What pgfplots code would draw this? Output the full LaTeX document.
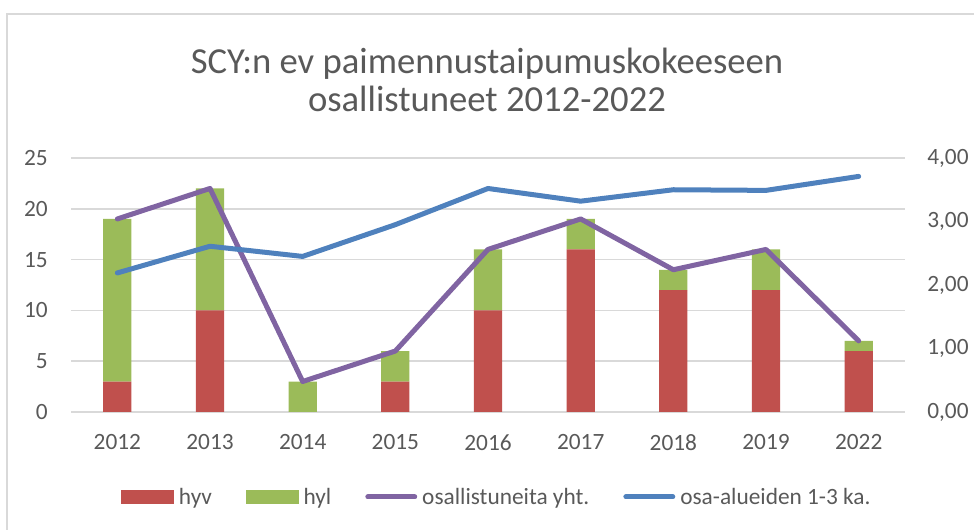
\documentclass[border=0pt]{standalone}
\usepackage{pgfplots}
\pgfplotsset{compat=1.18}
\usepackage{fontspec}
\setmainfont{Carlito}
\definecolor{cred}{HTML}{C0504D}
\definecolor{cgreen}{HTML}{9BBB59}
\definecolor{cpurple}{HTML}{8064A2}
\definecolor{cblue}{HTML}{4F81BD}
\definecolor{gridc}{HTML}{D9D9D9}
\definecolor{textc}{HTML}{595959}
\pgfplotsset{
  base/.style={
    at={(53.25pt,88.5pt)}, anchor=south west,
    scale only axis, width=625.5pt, height=190.5pt,
    xmin=-0.5, xmax=8.5,
    axis line style={draw=none}, major tick length=0pt,
    tick label style={font=\fontsize{17.5}{20}\selectfont, text=textc, inner sep=0pt},
    /pgf/number format/assume math mode=true,
  }
}
\begin{document}
\begin{tikzpicture}
\path[use as bounding box] (0pt,0pt) rectangle (730.5pt,397.5pt);
\draw[color=gridc, line width=1.5pt] (5.25pt,0pt) -- (5.25pt,387pt) -- (730.5pt,387pt);
\node[font=\fontsize{27.5}{28.5}\selectfont, color=textc, align=center] at (365.25pt,337.5pt) {SCY:n ev paimennustaipumuskokeeseen\\osallistuneet 2012-2022};
\begin{axis}[base,
  ymin=0, ymax=25,
  xtick={0,...,8}, xticklabels={2012,2013,2014,2015,2016,2017,2018,2019,2022},
  ytick={0,5,...,25},
  ymajorgrids, grid style={gridc, line width=1.3pt},
  yticklabel style={anchor=east, xshift=-17.25pt},
  xticklabel style={anchor=north, yshift=-16.5pt},
  ybar stacked, bar width=0.305,
  legend style={at={(0.5096,-0.3346)}, anchor=center, draw=none, fill=none,
    legend columns=4, font=\fontsize{17.5}{20}\selectfont, text=textc,
    inner sep=0pt, cells={anchor=west},
    /tikz/every odd column/.append style={column sep=3.75pt},
    /tikz/every even column/.append style={column sep=25.5pt},
    nodes={inner sep=0pt}},
]
\addplot[fill=cred, draw=none, forget plot] coordinates {(0,3) (1,10) (2,0) (3,3) (4,10) (5,16) (6,12) (7,12) (8,6)};
\addplot[fill=cgreen, draw=none, forget plot] coordinates {(0,16) (1,12) (2,3) (3,3) (4,6) (5,3) (6,2) (7,4) (8,1)};
\addlegendimage{legend image code/.code={\fill[cred] (0pt,-4.9pt) rectangle (39pt,4.9pt);}}
\addlegendentry{hyv}
\addlegendimage{legend image code/.code={\fill[cgreen] (0pt,-4.9pt) rectangle (39pt,4.9pt);}}
\addlegendentry{hyl}
\addlegendimage{legend image code/.code={\draw[cpurple, line width=3.75pt, line cap=round] (1.9pt,0pt) -- (37.1pt,0pt);}}
\addlegendentry{osallistuneita yht.}
\addlegendimage{legend image code/.code={\draw[cblue, line width=3.75pt, line cap=round] (1.9pt,0pt) -- (37.1pt,0pt);}}
\addlegendentry{osa-alueiden 1-3 ka.}
\end{axis}
\begin{axis}[base,
  ymin=0, ymax=25, xtick=\empty, ytick=\empty,
]
\addplot[sharp plot, cpurple, line width=3.75pt, line cap=round, line join=round]
  coordinates {(0,19) (1,22) (2,3) (3,6) (4,16) (5,19) (6,14) (7,16) (8,7)};
\end{axis}
\begin{axis}[base,
  ymin=0, ymax=4,
  xtick=\empty, ytick={0,1,...,4},
  yticklabel pos=right,
  yticklabel style={anchor=west, xshift=16.5pt, /pgf/number format/.cd, fixed, fixed zerofill, precision=2, use comma},
]
\addplot[sharp plot, cblue, line width=3.75pt, line cap=round, line join=round]
  coordinates {(0,2.19) (1,2.61) (2,2.45) (3,2.95) (4,3.52) (5,3.32) (6,3.50) (7,3.49) (8,3.71)};
\end{axis}
\end{tikzpicture}
\end{document}
